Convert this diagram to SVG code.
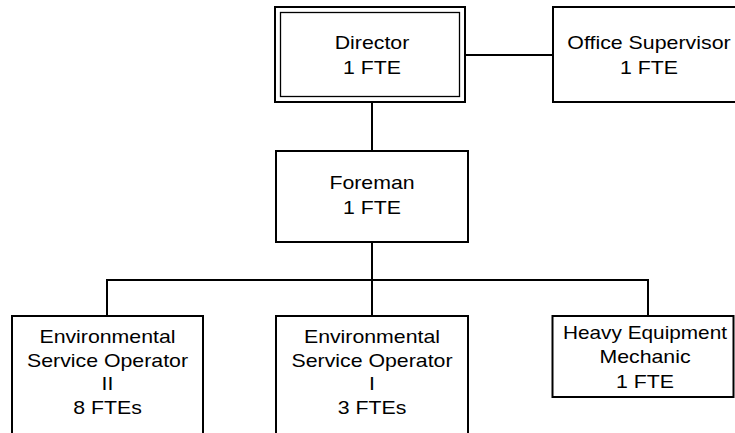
<svg xmlns="http://www.w3.org/2000/svg" width="735" height="433" viewBox="0 0 735 433">
  <style>
    .box { fill: #ffffff; stroke: #000000; stroke-width: 2; }
    .inner { fill: none; stroke: #000000; stroke-width: 1.3; }
    .wire { fill: none; stroke: #000000; stroke-width: 2; }
    text { font-family: "Liberation Sans", Arial, sans-serif; font-size: 18.5px; fill: #000000; text-anchor: middle; }
  </style>
  <rect width="735" height="433" fill="#ffffff"/>

  <!-- reporting lines -->
  <g id="connectors">
    <line class="wire" x1="372" y1="102" x2="372" y2="151"/>
    <line class="wire" x1="465" y1="55" x2="553" y2="55"/>
    <line class="wire" x1="372" y1="242" x2="372" y2="316"/>
    <line class="wire" x1="107" y1="280" x2="648" y2="280"/>
    <line class="wire" x1="107" y1="279" x2="107" y2="316"/>
    <line class="wire" x1="648" y1="279" x2="648" y2="316"/>
  </g>

  <g id="director">
    <rect class="box" x="275" y="7" width="190" height="95"/>
    <rect class="inner" x="280.5" y="12.5" width="179" height="84"/>
    <text x="372" y="48.5" textLength="74.6" lengthAdjust="spacingAndGlyphs">Director</text>
    <text x="372" y="73.5" textLength="58" lengthAdjust="spacingAndGlyphs">1 FTE</text>
  </g>

  <g id="office-supervisor">
    <rect class="box" x="553" y="7" width="192" height="95"/>
    <text x="649" y="48.5" textLength="163.3" lengthAdjust="spacingAndGlyphs">Office Supervisor</text>
    <text x="649" y="73.5" textLength="58" lengthAdjust="spacingAndGlyphs">1 FTE</text>
  </g>

  <g id="foreman">
    <rect class="box" x="276" y="151" width="192" height="91"/>
    <text x="372" y="189" textLength="85.2" lengthAdjust="spacingAndGlyphs">Foreman</text>
    <text x="372" y="214" textLength="58" lengthAdjust="spacingAndGlyphs">1 FTE</text>
  </g>

  <g id="eso-2">
    <rect class="box" x="12" y="316" width="191" height="130"/>
    <text x="107.5" y="343" textLength="136.1" lengthAdjust="spacingAndGlyphs">Environmental</text>
    <text x="107.5" y="366.5" textLength="161" lengthAdjust="spacingAndGlyphs">Service Operator</text>
    <text x="107.5" y="390" textLength="11.8" lengthAdjust="spacingAndGlyphs">II</text>
    <text x="107.5" y="413.5" textLength="68.6" lengthAdjust="spacingAndGlyphs">8 FTEs</text>
  </g>

  <g id="eso-1">
    <rect class="box" x="276" y="316" width="192" height="130"/>
    <text x="372" y="343" textLength="136.1" lengthAdjust="spacingAndGlyphs">Environmental</text>
    <text x="372" y="366.5" textLength="161" lengthAdjust="spacingAndGlyphs">Service Operator</text>
    <text x="372" y="390" textLength="5.9" lengthAdjust="spacingAndGlyphs">I</text>
    <text x="372" y="413.5" textLength="68.6" lengthAdjust="spacingAndGlyphs">3 FTEs</text>
  </g>

  <g id="heavy-equipment-mechanic">
    <rect class="box" x="552.5" y="316" width="181" height="81"/>
    <text x="645" y="338.5" textLength="164" lengthAdjust="spacingAndGlyphs">Heavy Equipment</text>
    <text x="645" y="363" textLength="91.1" lengthAdjust="spacingAndGlyphs">Mechanic</text>
    <text x="645" y="388" textLength="58" lengthAdjust="spacingAndGlyphs">1 FTE</text>
  </g>
</svg>
